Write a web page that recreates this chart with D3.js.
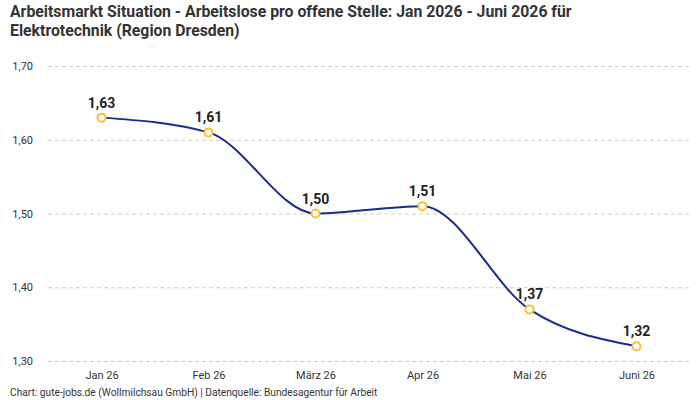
<!DOCTYPE html>
<html lang="de">
<head>
<meta charset="utf-8">
<title>Arbeitsmarkt Situation</title>
<script src="https://d3js.org/d3.v7.min.js"></script>
<style>
  body { margin: 0; background: #fff; }
  text { font-family: Roboto, "Noto Sans", sans-serif; }
</style>
</head>
<body>
<div id="chart"></div>
<script>
// data
const months = ["Jan 26", "Feb 26", "März 26", "Apr 26", "Mai 26", "Juni 26"];
const values = [1.63, 1.61, 1.50, 1.51, 1.37, 1.32];
const yTicks = [1.30, 1.40, 1.50, 1.60, 1.70];

const width = 700, height = 400;
const margin = { top: 66, right: 10, bottom: 39, left: 48 };

const svg = d3.select("#chart").append("svg")
  .attr("width", width)
  .attr("height", height);

const x = d3.scalePoint()
  .domain(months)
  .range([margin.left, width - margin.right])
  .padding(0.5);

const y = d3.scaleLinear()
  .domain([1.30, 1.70])
  .range([height - margin.bottom, margin.top]);

const fmt = d => d3.format(".2f")(d).replace(".", ",");

// title
svg.append("text")
  .attr("x", 10).attr("y", 17)
  .style("font-size", "15.8px").style("font-weight", "bold").style("fill", "#333")
  .text("Arbeitsmarkt Situation - Arbeitslose pro offene Stelle: Jan 2026 - Juni 2026 für");
svg.append("text")
  .attr("x", 10).attr("y", 36)
  .style("font-size", "15.8px").style("font-weight", "bold").style("fill", "#333")
  .text("Elektrotechnik (Region Dresden)");

// grid + y axis
const yAxis = svg.append("g")
  .attr("transform", `translate(${margin.left},0)`)
  .call(d3.axisLeft(y).tickValues(yTicks).tickFormat(fmt)
    .tickSize(-(width - margin.left - margin.right)).tickPadding(15));
yAxis.select(".domain").remove();
yAxis.selectAll(".tick line")
  .attr("stroke", "#ccc")
  .attr("stroke-dasharray", "4,3");
yAxis.selectAll(".tick text")
  .style("font-size", "11px").style("fill", "#333");

// x axis
const xAxis = svg.append("g")
  .attr("transform", `translate(0,${height - margin.bottom})`)
  .call(d3.axisBottom(x).tickSize(0).tickPadding(10));
xAxis.select(".domain").remove();
xAxis.selectAll(".tick text")
  .style("font-size", "11px").style("fill", "#333");

// line
const line = d3.line()
  .x((d, i) => x(months[i]))
  .y(d => y(d))
  .curve(d3.curveMonotoneX);

svg.append("path")
  .datum(values)
  .attr("d", line)
  .attr("fill", "none")
  .attr("stroke", "#1a2d8c")
  .attr("stroke-width", 2);

// points
svg.selectAll(".pt")
  .data(values)
  .join("circle")
  .attr("class", "pt")
  .attr("cx", (d, i) => x(months[i]))
  .attr("cy", d => y(d))
  .attr("r", 4)
  .attr("fill", "#fff")
  .attr("stroke", "#fbc02d")
  .attr("stroke-width", 2);

// labels
svg.selectAll(".lbl")
  .data(values)
  .join("text")
  .attr("class", "lbl")
  .attr("x", (d, i) => x(months[i]))
  .attr("y", d => y(d) - 10)
  .attr("text-anchor", "middle")
  .style("font-size", "14px").style("font-weight", "bold").style("fill", "#222")
  .text(fmt);

// footer
svg.append("text")
  .attr("x", 10).attr("y", 396)
  .style("font-size", "10.2px").style("fill", "#333")
  .text("Chart: gute-jobs.de (Wollmilchsau GmbH) | Datenquelle: Bundesagentur für Arbeit");
</script>
</body>
</html>
